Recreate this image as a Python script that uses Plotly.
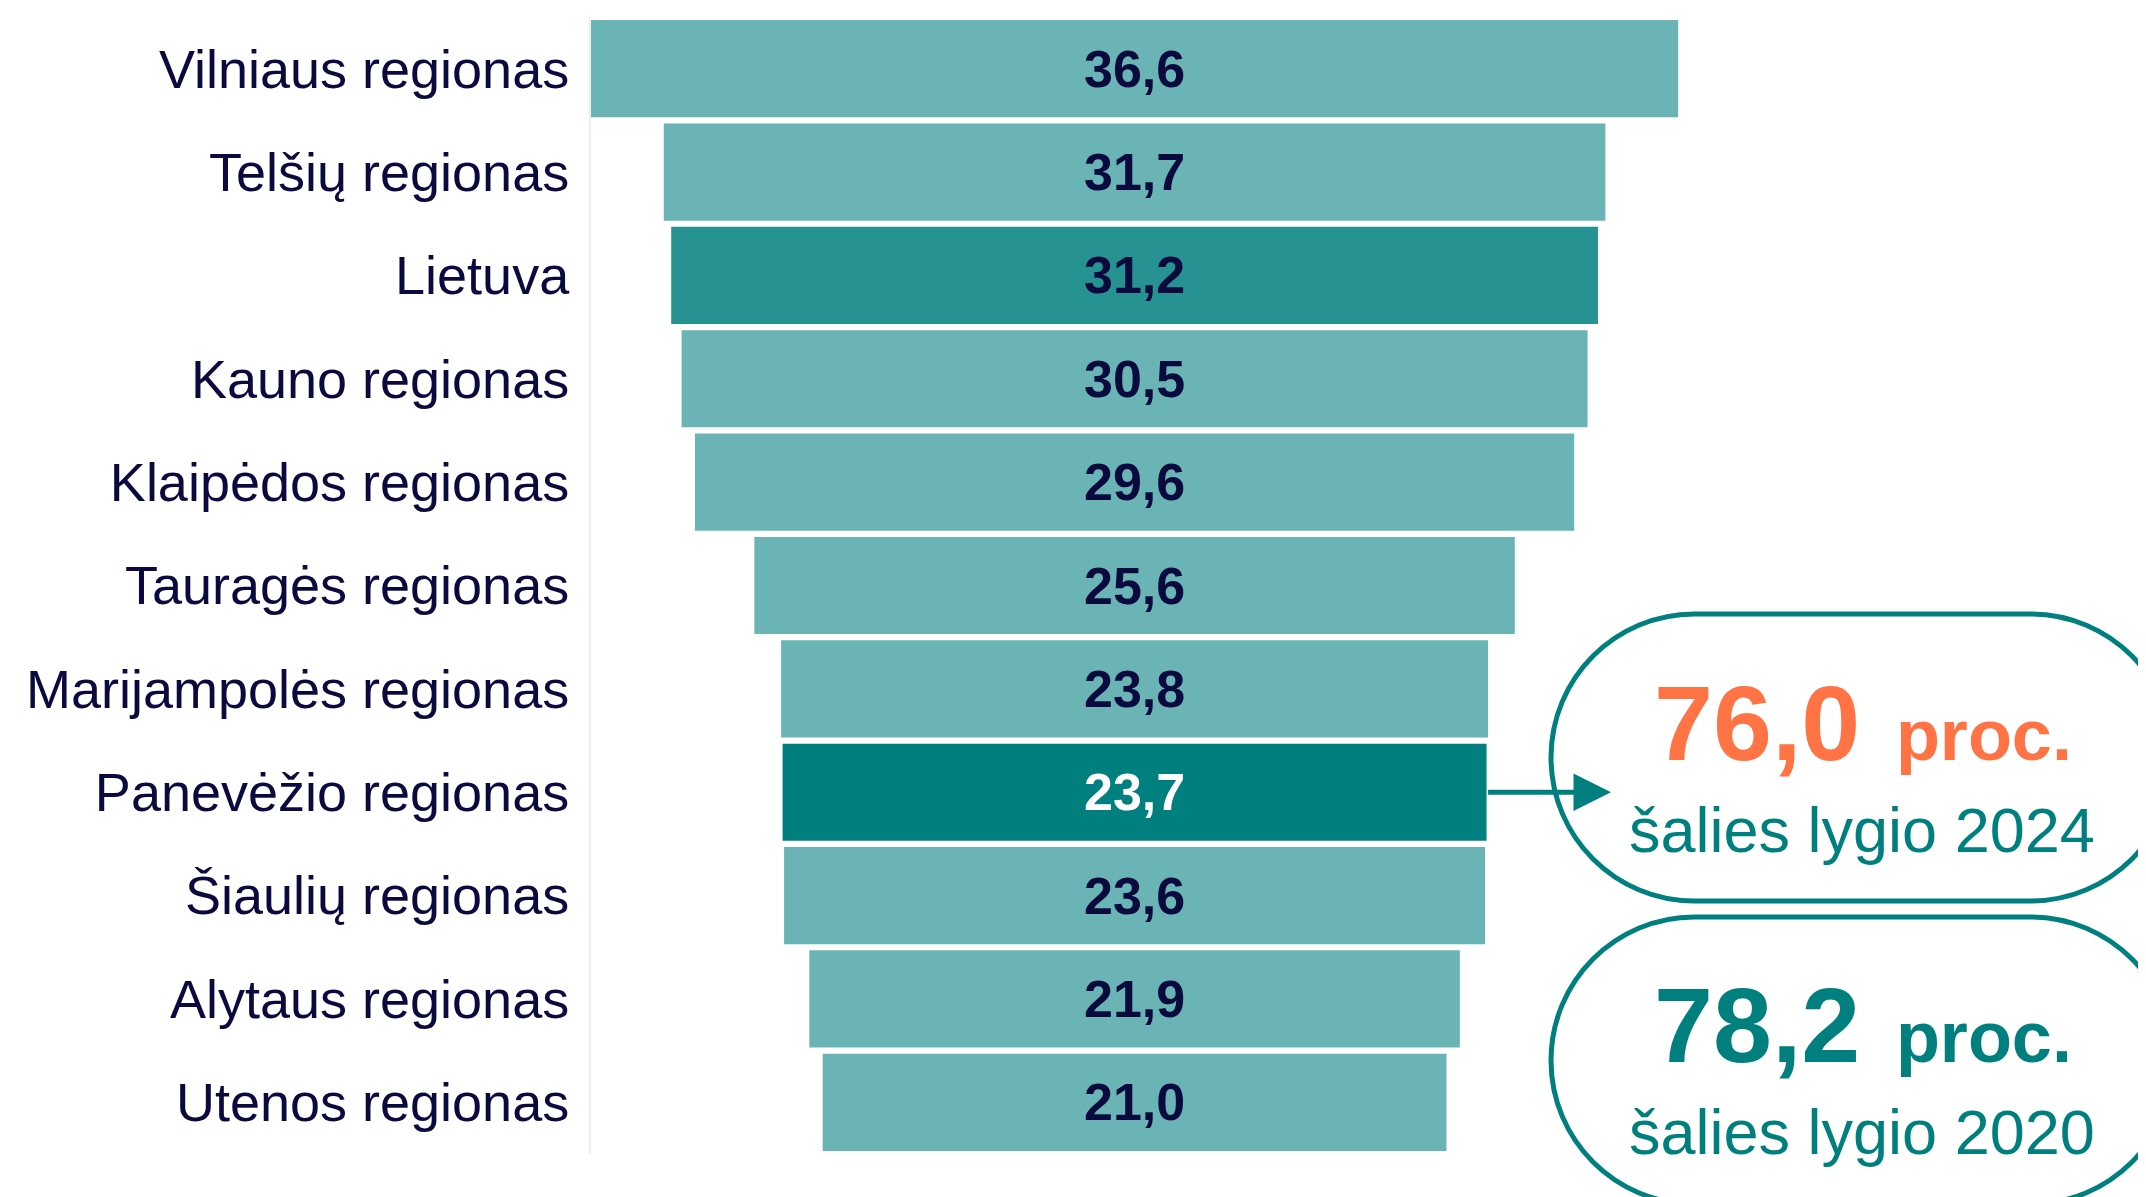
import plotly.graph_objects as go

regions = ["Vilniaus regionas", "Telšių regionas", "Lietuva", "Kauno regionas",
           "Klaipėdos regionas", "Tauragės regionas", "Marijampolės regionas",
           "Panevėžio regionas", "Šiaulių regionas", "Alytaus regionas", "Utenos regionas"]
values = [36.6, 31.7, 31.2, 30.5, 29.6, 25.6, 23.8, 23.7, 23.6, 21.9, 21.0]
value_labels = [f"{v:.1f}".replace(".", ",") for v in values]

bubble_values = ["76,0", "78,2"]
bubble_years = ["2024", "2020"]

LIGHT = "#6AB4B5"
MID = "#279292"
DARK = "#007F7F"
NAVY = "#0B0A3E"
ORANGE = "#FF7345"
FONT = "Liberation Sans, Arial, sans-serif"

bar_colors = [MID if r == "Lietuva" else DARK if r.startswith("Panevėžio") else LIGHT for r in regions]
text_colors = ["white" if r.startswith("Panevėžio") else NAVY for r in regions]

OFF = 8  # page body margin offset
W, H = 2146 - OFF, 1197 - OFF
ML, MR, MT, MB = 591 - OFF, 0, 17 - OFF, 43
PW, PH = W - ML - MR, H - MT - MB


def px(X):
    return (X - OFF - ML) / PW


def py(Y):
    return (MT + PH - (Y - OFF)) / PH


fig = go.Figure(go.Funnel(
    y=regions, x=values,
    text=value_labels, textinfo="text", textposition="inside",
    insidetextanchor="middle",
    textfont=dict(family=FONT, size=52, color=text_colors, weight="bold"),
    marker=dict(color=bar_colors, line=dict(width=0)),
    connector=dict(visible=False),
    hoverinfo="skip",
))


def stadium(x0, x1, y0, y1):
    r = (y1 - y0) / 2
    k = 0.5523 * r
    d = f"M {px(x0 + r)} {py(y0)} L {px(x1 - r)} {py(y0)} "
    d += f"C {px(x1 - r + k)} {py(y0)} {px(x1)} {py(y0 + r - k)} {px(x1)} {py(y0 + r)} "
    d += f"C {px(x1)} {py(y0 + r + k)} {px(x1 - r + k)} {py(y1)} {px(x1 - r)} {py(y1)} "
    d += f"L {px(x0 + r)} {py(y1)} "
    d += f"C {px(x0 + r - k)} {py(y1)} {px(x0)} {py(y1 - r + k)} {px(x0)} {py(y0 + r)} "
    d += f"C {px(x0)} {py(y0 + r - k)} {px(x0 + r - k)} {py(y0)} {px(x0 + r)} {py(y0)} Z"
    return d


shapes = []
for (y0, y1) in [(614, 901), (917, 1204)]:
    shapes.append(dict(type="path", xref="paper", yref="paper",
                       path=stadium(1551, 2174, y0, y1),
                       line=dict(color=DARK, width=5), fillcolor="rgba(0,0,0,0)"))

annotations = [
    dict(xref="x", yref="y", axref="x", ayref="y",
         x=16.04, y="Panevėžio regionas", ax=23.7 / 2, ay="Panevėžio regionas",
         text="", showarrow=True, arrowhead=2, arrowsize=1.5, arrowwidth=5,
         arrowcolor=DARK, standoff=0, startstandoff=0),
]

big_centers = [715, 1017]
small_centers = [830, 1132]
big_colors = [ORANGE, DARK]
for i in range(2):
    annotations.append(dict(
        xref="paper", yref="paper", x=px(1863), y=py(big_centers[i]),
        xanchor="center", yanchor="middle", showarrow=False,
        text=(f"<b>{bubble_values[i]}<span style='font-size:128px'> </span>"
              f"<span style='font-size:72px'>proc.</span></b>"),
        font=dict(family=FONT, size=106, color=big_colors[i])))
    annotations.append(dict(
        xref="paper", yref="paper", x=px(1862), y=py(small_centers[i]),
        xanchor="center", yanchor="middle", showarrow=False,
        text=f"šalies lygio {bubble_years[i]}",
        font=dict(family=FONT, size=63, color=DARK)))

fig.update_layout(
    width=W, height=H,
    margin=dict(l=ML, r=MR, t=MT, b=MB),
    paper_bgcolor="white", plot_bgcolor="white",
    funnelgap=0.06,
    showlegend=False,
    xaxis=dict(range=[-18.3, 34.05], visible=False, fixedrange=True),
    yaxis=dict(autorange="reversed", showline=True, linecolor="#EEEEEE", linewidth=2,
               ticks="", ticklabelstandoff=9, showgrid=False,
               tickfont=dict(family=FONT, size=54, color=NAVY), fixedrange=True),
    shapes=shapes,
    annotations=annotations,
)

fig.write_html("out.html")
